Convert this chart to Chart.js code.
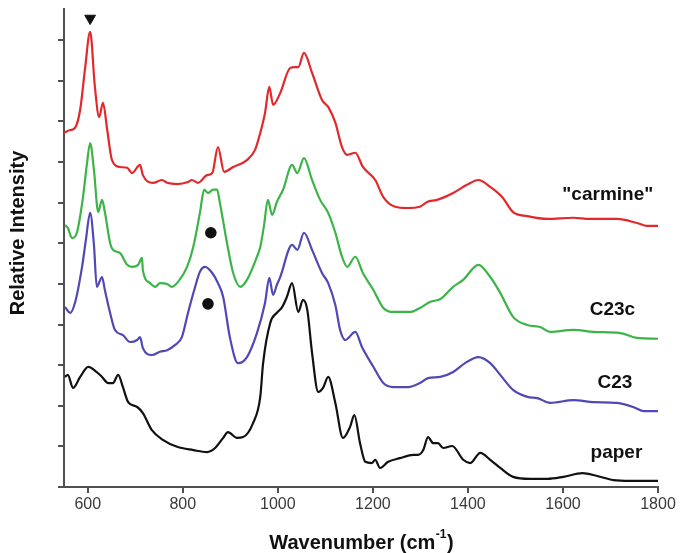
<!DOCTYPE html>
<html>
<head>
<meta charset="utf-8">
<script src="https://cdn.jsdelivr.net/npm/chart.js@4/dist/chart.umd.min.js"></script>
<style>
  html, body { margin: 0; padding: 0; background: #ffffff; }
  #wrap { width: 680px; height: 553px; position: relative; }
</style>
</head>
<body>
<div id="wrap"><canvas id="c" width="680" height="553"></canvas></div>
<script>
// ---------- data ----------
const xTickValues = [600, 800, 1000, 1200, 1400, 1600, 1800];
const seriesNames = ['"carmine"', 'C23c', 'C23', 'paper'];

const carmineWn = [550,563,573,584,594,605,615,624,632,641,651,668,683,693,710,716,737,756,767,788,811,819,832,851,862,874,887,906,935,952,963,973,982,990,1005,1026,1036,1043,1055,1072,1093,1106,1121,1135,1146,1163,1179,1205,1222,1247,1272,1299,1314,1335,1369,1398,1422,1447,1472,1495,1525,1567,1622,1657,1714,1756,1777,1800];
const carmineInt = [8.72,8.79,8.84,9.29,10.27,11.21,9.85,9.11,9.46,8.79,8.05,7.88,7.86,7.73,7.93,7.68,7.49,7.56,7.49,7.46,7.51,7.56,7.49,7.68,7.73,8.37,7.76,7.88,8.05,8.30,8.72,9.21,9.85,9.41,9.70,10.32,10.34,10.34,10.69,10.20,9.53,9.36,8.97,8.37,8.18,8.23,7.88,7.56,7.14,6.90,6.87,6.90,7.02,7.07,7.24,7.44,7.56,7.39,7.14,6.77,6.67,6.60,6.63,6.60,6.60,6.50,6.43,6.43];

const c23cWn = [552,558,567,577,590,598,605,613,622,630,636,647,653,668,683,693,706,714,716,731,742,752,767,777,790,809,822,836,845,853,864,872,878,893,906,921,935,956,963,971,979,988,998,1011,1030,1041,1055,1072,1089,1106,1121,1135,1146,1163,1179,1201,1222,1243,1278,1299,1321,1342,1369,1390,1422,1447,1468,1495,1525,1552,1573,1622,1664,1721,1756,1800];
const c23cInt = [6.45,6.38,6.13,6.26,7.14,7.93,8.47,7.81,6.77,7.07,6.77,6.01,5.84,5.76,5.47,5.42,5.47,5.64,5.34,5.02,4.93,5.02,5.00,4.93,5.05,5.42,5.91,6.75,7.32,7.24,7.32,7.32,7.00,6.01,5.27,4.93,5.10,5.67,5.91,6.45,7.07,6.70,7.02,7.32,7.93,7.73,8.10,7.56,7.07,6.75,6.26,5.67,5.42,5.67,5.27,4.85,4.41,4.31,4.31,4.41,4.56,4.63,4.93,5.10,5.47,5.17,4.78,4.19,3.99,3.94,3.82,3.87,3.82,3.79,3.67,3.65];

const c23Wn = [552,563,573,588,596,605,613,619,630,636,647,657,674,689,704,710,716,735,752,767,784,798,811,826,836,847,862,874,885,899,916,935,956,973,982,990,998,1005,1030,1041,1055,1072,1093,1106,1121,1131,1142,1163,1177,1201,1222,1243,1274,1299,1316,1342,1369,1394,1422,1447,1468,1495,1525,1546,1573,1622,1664,1714,1748,1769,1800];
const c23Int = [4.43,4.29,4.53,5.42,6.08,6.75,5.96,4.93,5.17,4.85,4.29,3.87,3.74,3.57,3.62,3.69,3.42,3.25,3.33,3.37,3.50,3.69,4.29,4.93,5.30,5.42,5.27,5.02,4.68,3.69,3.05,3.20,3.79,4.53,5.15,4.73,4.98,5.17,5.96,5.84,6.26,5.84,5.27,5.02,4.48,3.87,3.62,3.82,3.45,2.96,2.56,2.46,2.46,2.56,2.68,2.71,2.83,3.05,3.20,3.05,2.76,2.39,2.22,2.19,2.07,2.14,2.09,2.07,1.97,1.87,1.87];

const paperWn = [552,558,569,584,601,619,630,643,653,664,674,685,704,716,735,758,788,822,851,868,885,895,914,927,948,963,969,984,998,1009,1019,1030,1043,1053,1062,1072,1085,1095,1106,1121,1137,1152,1161,1173,1184,1198,1205,1215,1232,1257,1285,1295,1306,1316,1327,1337,1348,1367,1390,1405,1426,1447,1468,1495,1531,1567,1601,1641,1672,1706,1742,1800];
const paperInt = [2.71,2.76,2.44,2.71,2.96,2.83,2.71,2.56,2.56,2.76,2.46,2.09,1.97,1.82,1.40,1.16,0.99,0.91,0.86,0.96,1.21,1.35,1.21,1.23,1.58,2.22,3.05,4.04,4.29,4.43,4.68,5.02,4.31,4.61,4.36,3.30,2.34,2.44,2.71,2.07,1.21,1.48,1.77,1.08,0.62,0.59,0.67,0.47,0.62,0.71,0.79,0.79,0.91,1.23,1.08,1.08,0.96,1.01,0.67,0.59,0.84,0.67,0.47,0.25,0.20,0.20,0.25,0.34,0.27,0.17,0.15,0.15];

// markers: ▼ above the carmine band, ● under the 850 cm-1 bands
const triangleWn = [605];
const triangleInt = [11.54];
const dotWn = [859, 853];
const dotInt = [6.26, 4.51];

// ---------- styling ----------
const FONT = '"Liberation Sans", Arial, Helvetica, sans-serif';
const AXIS = '#505050';
const colors = ['#e2282a', '#3cb447', '#5048b4', '#111111'];

function pts(xs, ys) { return xs.map((x, i) => ({ x: x, y: ys[i] })); }

const lineSets = [
  [carmineWn, carmineInt], [c23cWn, c23cInt], [c23Wn, c23Int], [paperWn, paperInt]
].map((s, i) => ({
  label: seriesNames[i],
  data: pts(s[0], s[1]),
  showLine: true,
  borderColor: colors[i],
  borderWidth: 2.2,
  pointRadius: 0,
  cubicInterpolationMode: 'monotone',
  fill: false,
  order: 2
}));

const markerSets = [
  {
    label: 'triangle', data: pts(triangleWn, triangleInt), showLine: false,
    pointStyle: 'triangle', rotation: 180, pointRadius: 6.2,
    backgroundColor: '#111', borderColor: '#111', borderWidth: 1, order: 1
  },
  {
    label: 'dots', data: pts(dotWn, dotInt), showLine: false,
    pointStyle: 'circle', pointRadius: 5.8,
    backgroundColor: '#111', borderColor: '#111', borderWidth: 0, order: 1
  }
];

// label anchors (right edge, vertical centre) in data units
const labelAnchors = [
  { x: 1790, y: 7.19 }, { x: 1752, y: 4.36 }, { x: 1746, y: 2.56 }, { x: 1767, y: 0.84 }
];

const textPlugin = {
  id: 'texts',
  afterDraw(chart) {
    const ctx = chart.ctx;
    const xs = chart.scales.x, ys = chart.scales.y;
    ctx.save();
    ctx.fillStyle = '#111';
    ctx.textBaseline = 'middle';
    // series labels
    ctx.font = 'bold 19px ' + FONT;
    ctx.textAlign = 'right';
    seriesNames.forEach((n, i) => {
      ctx.fillText(n, xs.getPixelForValue(labelAnchors[i].x), ys.getPixelForValue(labelAnchors[i].y));
    });
    // x title with superscript
    const big = 'bold 20px ' + FONT, small = 'bold 12px ' + FONT;
    const p1 = 'Wavenumber (cm', p2 = '-1', p3 = ')';
    ctx.font = big; const w1 = ctx.measureText(p1).width, w3 = ctx.measureText(p3).width;
    ctx.font = small; const w2 = ctx.measureText(p2).width;
    const total = w1 + w2 + w3;
    const cx = (chart.chartArea.left + chart.chartArea.right) / 2;
    let x0 = cx - total / 2;
    const ty = 543;
    ctx.textAlign = 'left';
    ctx.font = big; ctx.fillText(p1, x0, ty);
    ctx.font = small; ctx.fillText(p2, x0 + w1 + 0.5, ty - 8);
    ctx.font = big; ctx.fillText(p3, x0 + w1 + w2 + 1, ty);
    // y title
    ctx.translate(18, 233);
    ctx.rotate(-Math.PI / 2);
    ctx.textAlign = 'center';
    ctx.font = 'bold 20px ' + FONT;
    ctx.fillText('Relative Intensity', 0, 0);
    ctx.restore();
  }
};

new Chart(document.getElementById('c'), {
  type: 'scatter',
  data: { datasets: lineSets.concat(markerSets) },
  options: {
    responsive: false,
    animation: false,
    events: [],
    layout: { padding: { top: 9, right: 22, left: 0, bottom: 0 } },
    plugins: { legend: { display: false }, tooltip: { enabled: false } },
    scales: {
      x: {
        type: 'linear', min: 550, max: 1800,
        afterBuildTicks(scale) { scale.ticks = xTickValues.map(v => ({ value: v })); },
        afterFit(scale) { scale.height = 66; },
        ticks: {
          font: { family: FONT, size: 16 }, color: '#3a3a3a', padding: 2,
          maxRotation: 0, autoSkip: false,
          callback: v => String(v)
        },
        grid: { drawOnChartArea: false, drawTicks: true, tickLength: 6, color: AXIS, lineWidth: 2 },
        border: { display: true, color: AXIS, width: 2 }
      },
      y: {
        type: 'linear', min: 0, max: 11.77,
        afterFit(scale) { scale.width = 64; },
        ticks: { display: false, stepSize: 1, includeBounds: false },
        grid: { drawOnChartArea: false, drawTicks: true, tickLength: 6, color: AXIS, lineWidth: 2 },
        border: { display: true, color: AXIS, width: 2 }
      }
    }
  },
  plugins: [textPlugin]
});
</script>
</body>
</html>
